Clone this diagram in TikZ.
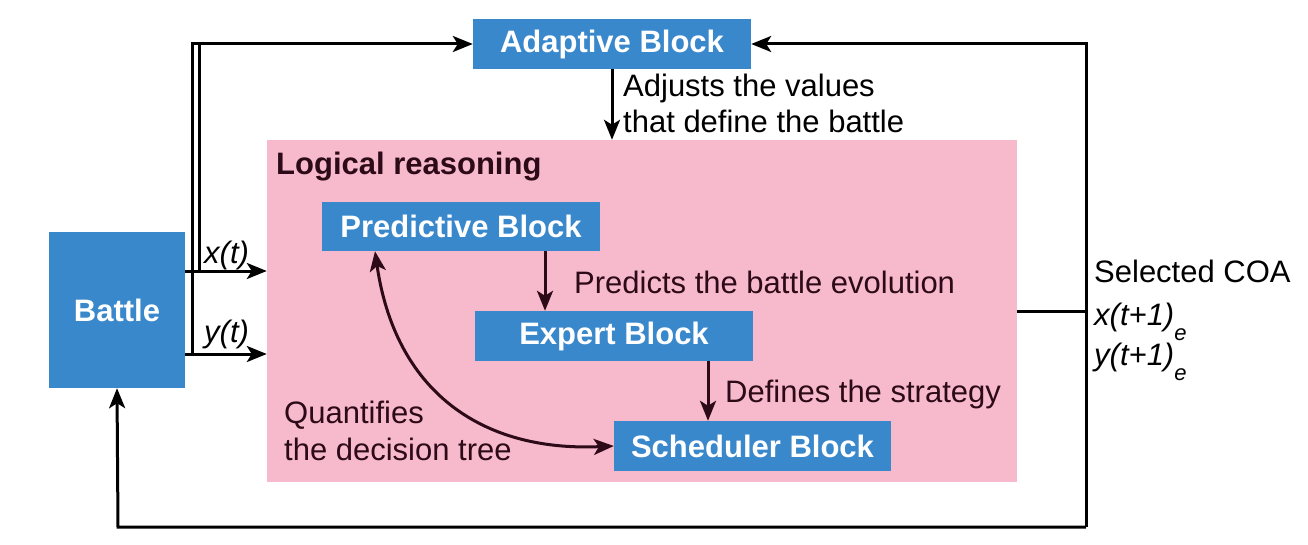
\documentclass[tikz,border=0pt]{standalone}
\usepackage{fontspec}
\setmainfont{Liberation Sans}
\usetikzlibrary{arrows.meta,positioning}
\definecolor{boxblue}{HTML}{3A88CC}
\definecolor{logicpink}{HTML}{F7B9CC}
\definecolor{darkin}{HTML}{2D0A18}
\tikzset{
  blk/.style={fill=boxblue, text=white, font=\fontsize{31}{37}\selectfont\bfseries, inner sep=0pt},
  lbl/.style={font=\fontsize{31}{37}\selectfont, inner sep=0pt, anchor=base west},
  conn/.style={line width=3pt},
  arr/.style={conn, -{Stealth[length=20pt,width=16pt,inset=5pt]}},
  darr/.style={conn, {Stealth[length=20pt,width=16pt,inset=5pt]}-{Stealth[length=20pt,width=16pt,inset=5pt]}},
}
\begin{document}
\begin{tikzpicture}[x=1pt,y=-1pt]
\useasboundingbox (0,0) rectangle (1308,545);
% pink region
\node[fill=logicpink, minimum width=750pt, minimum height=342pt, inner sep=0pt] (logic) at (642,311) {};
\node[lbl, font=\fontsize{31}{37}\selectfont\bfseries, text=darkin] (logiclbl) at (276,175) {Logical reasoning};
% blocks
\node[blk, minimum width=278pt, minimum height=50pt] (adapt) at (612,44) {Adaptive Block};
\node[blk, minimum width=278pt, minimum height=49pt] (pred) at (461,226.5) {Predictive Block};
\node[blk, minimum width=278pt, minimum height=50pt] (expert) at (614,336) {Expert Block};
\node[blk, minimum width=277pt, minimum height=50pt] (sched) at (752.5,446) {Scheduler Block};
\node[blk, minimum width=136pt, minimum height=156pt] (battle) at (117,310) {Battle};
% coordinates
\coordinate (xt) at (199,271);
\coordinate (yt) at (192,354);
\coordinate (xtop) at (199,44);
\coordinate (ytop) at (192,44);
\coordinate (outr) at (1086,311);
\coordinate (outtop) at (1086,44);
\coordinate (outbot) at (1086,527);
\coordinate (battlebot) at (118,527);
% inputs
\draw[arr] (battle.east |- xt) -- (logic.west |- xt);
\draw[arr] (battle.east |- yt) -- (logic.west |- yt);
\draw[conn] (xt) -- (xtop);
\draw[arr] (yt) -- (ytop) -- (adapt.west);
\node[lbl, font=\fontsize{31}{37}\selectfont\itshape] (xtl) at (204,263) {x(t)};
\node[lbl, font=\fontsize{31}{37}\selectfont\itshape] (ytl) at (204,342) {y(t)};
% adaptive to logic
\draw[arr] (adapt.south) -- (adapt.south |- logic.north);
\node[lbl] (adj1) at (623,97) {Adjusts the values};
\node[lbl] (adj2) at (623,133) {that define the battle};
% inner arrows
\draw[arr, darkin] (pred.south -| 545,0) -- (expert.north -| 545,0);
\node[lbl, text=darkin] (predl) at (574,293) {Predicts the battle evolution};
\draw[arr, darkin] (expert.south -| 708,0) -- (sched.north -| 708,0);
\node[lbl, text=darkin] (defl) at (725,402) {Defines the strategy};
\draw[darr, darkin] (pred.south -| 375,0) .. controls (395,390) and (480,452) .. (sched.west);
\node[lbl, text=darkin] (q1) at (284,423) {Quantifies};
\node[lbl, text=darkin] (q2) at (284,460) {the decision tree};
% output loop
\draw[conn] (logic.east |- outr) -- (outr);
\draw[arr] (outbot) -- (outtop) -- (adapt.east);
\draw[arr] (outbot) -- (battlebot) -- (battle.south);
\node[lbl] (coa) at (1094,282) {Selected COA};
\node[lbl, font=\fontsize{31}{37}\selectfont\itshape] (xo) at (1094,325) {x(t+1)\raisebox{-15pt}{\fontsize{22}{22}\selectfont e}};
\node[lbl, font=\fontsize{31}{37}\selectfont\itshape] (yo) at (1094,365) {y(t+1)\raisebox{-15pt}{\fontsize{22}{22}\selectfont e}};
\end{tikzpicture}
\end{document}
